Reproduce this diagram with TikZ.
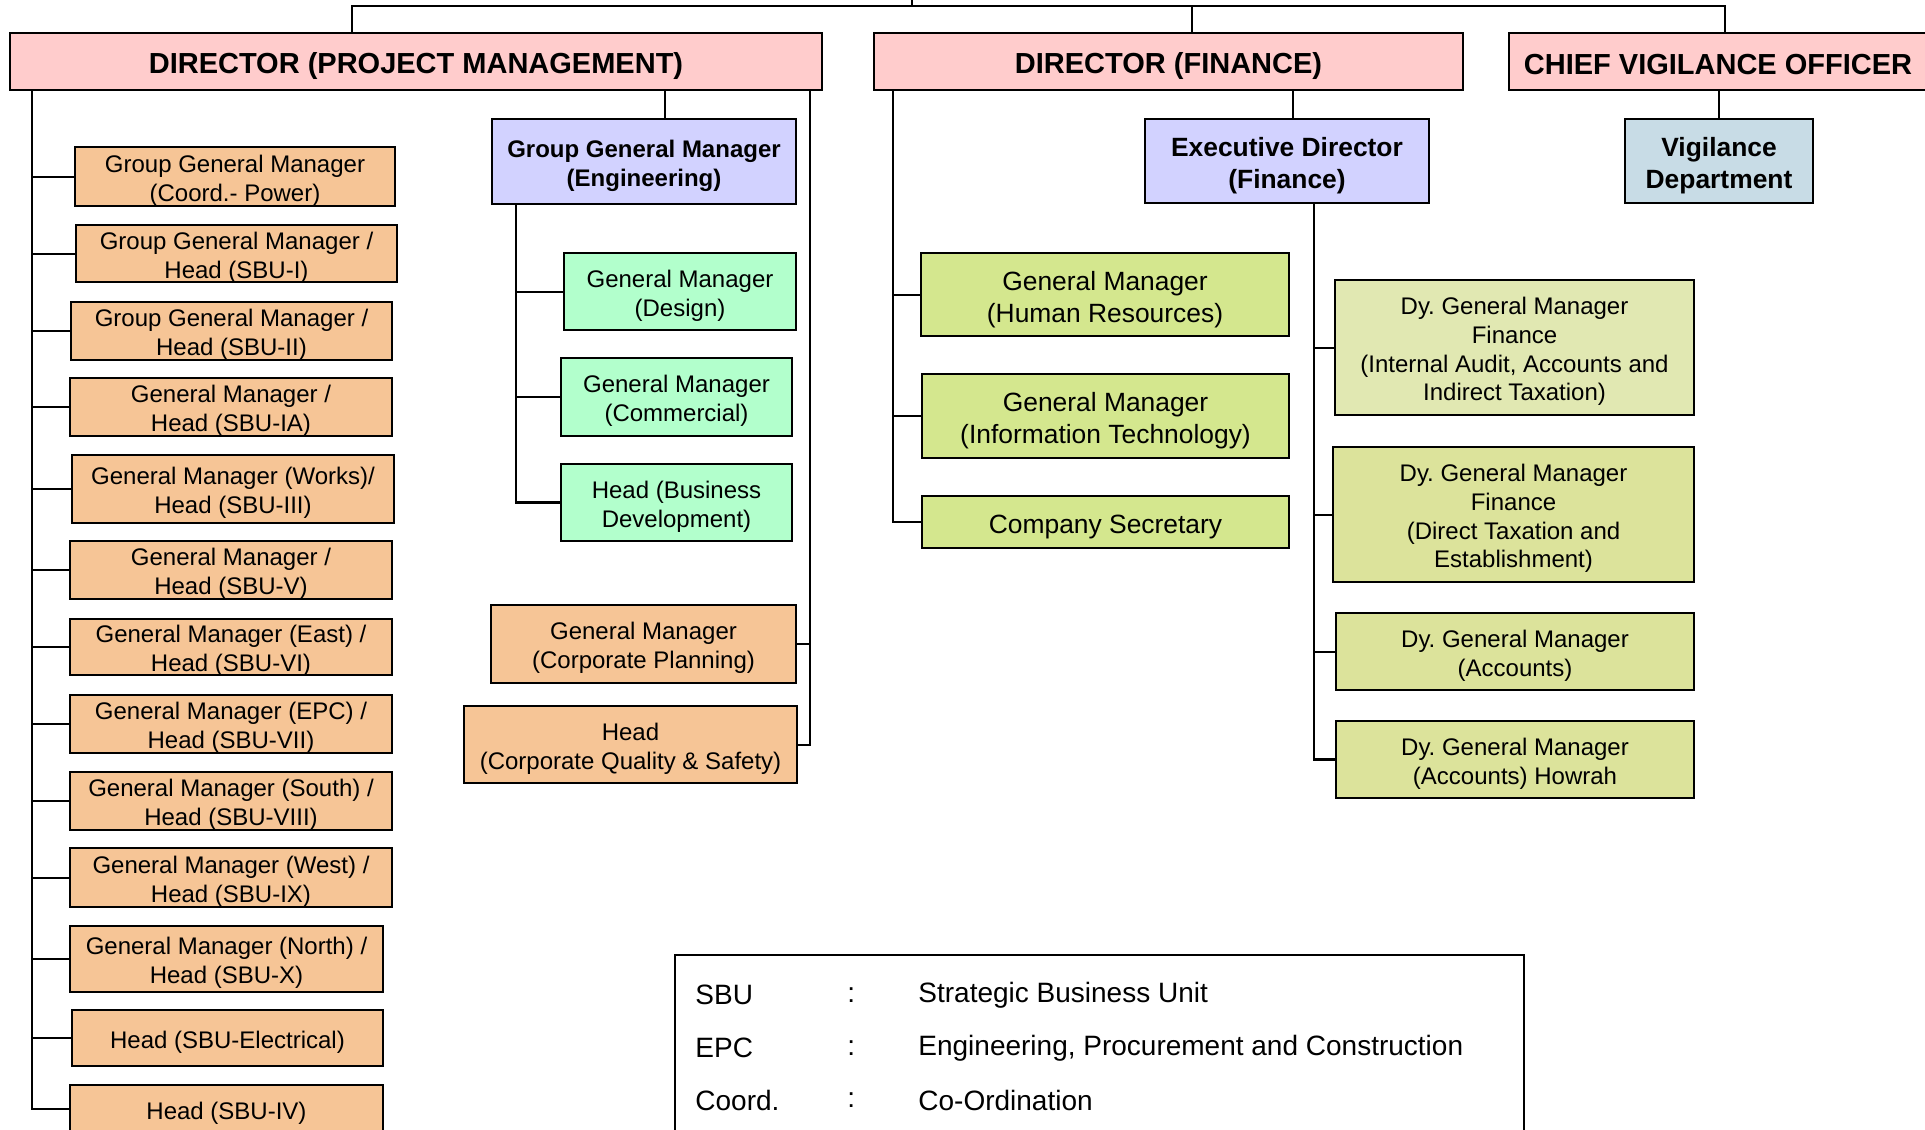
\documentclass[tikz,border=0pt]{standalone}
\usepackage{fontspec}
\setmainfont{Liberation Sans}
\definecolor{pinkc}{HTML}{FFCCCC}
\definecolor{peach}{HTML}{F6C596}
\definecolor{lav}{HTML}{D2D2FF}
\definecolor{mint}{HTML}{B2FFCC}
\definecolor{limea}{HTML}{D4E78E}
\definecolor{limeb}{HTML}{E1E8B2}
\definecolor{limec}{HTML}{DCE39B}
\definecolor{vig}{HTML}{C8DCE6}
\newcommand\bx[8][-2pt]{%
  \node[#7, minimum width={(#4-#2)*0.5pt}, minimum height={(#5-#3)*0.5pt}] (#2) at ({(#3+#5)/2},{(#4+#6)/2}) {};}
\newcommand\bxx[8][-2pt]{%
  \node[#7, minimum width={(#5-#3)*0.5pt}, minimum height={(#6-#4)*0.5pt}] (#2) at ({(#3+#5)/2},{(#4+#6)/2}) {};
  \node[#7, draw=none, fill=none, minimum width=0pt, minimum height=0pt] (#2-t) at ([yshift=#1]#2.center) {#8};}
\tikzset{
  box/.style={draw=black, line width=1pt, inner sep=0pt, align=center},
  dirbox/.style={box, fill=pinkc, font=\fontsize{14.5}{17}\selectfont\bfseries},
  orbox/.style={box, fill=peach, font=\fontsize{12}{14.4}\selectfont},
  engbox/.style={box, fill=lav, font=\fontsize{12}{14.6}\selectfont\bfseries},
  edbox/.style={box, fill=lav, font=\fontsize{13.2}{16}\selectfont\bfseries},
  vigbox/.style={box, fill=vig, font=\fontsize{13.2}{16}\selectfont\bfseries},
  mintbox/.style={box, fill=mint, font=\fontsize{12}{14.4}\selectfont},
  finbox/.style={box, fill=limea, font=\fontsize{13.2}{16}\selectfont},
  dybox/.style={box, fill=limec, font=\fontsize{12}{14.4}\selectfont},
  trunk/.style={draw=black, line width=1.3pt},
  conn/.style={draw=black, line width=1pt},
  legtxt/.style={inner sep=0pt, anchor=west, font=\fontsize{14}{16}\selectfont}
}
\begin{document}
\frenchspacing
\begin{tikzpicture}[x=0.5pt, y=-0.5pt]
\useasboundingbox (0,0) rectangle (1925,1129);
\fill[white] (0,0) rectangle (1925,1129);

% directors
\bxx[-2.5pt]{dpm}{10}{33}{822}{90}{dirbox}{DIRECTOR (PROJECT MANAGEMENT)}
\bxx[-2.5pt]{df}{874}{33}{1463}{90}{dirbox}{DIRECTOR (FINANCE)}
\bxx[-1.5pt]{cvo}{1509}{33}{1927}{90}{dirbox}{CHIEF VIGILANCE OFFICER}

% top connectors
\coordinate (topL) at (352,6);
\coordinate (topR) at (1725,6);
\coordinate (topUp) at (912,0);
\coordinate (dfTop) at (1192,6);
\draw[trunk] (topL |- dpm.north) -- (topL) -- (topR) -- (topR |- cvo.north);
\draw[conn] (topUp) -- (topUp |- topL);
\draw[conn] (dfTop) -- (dfTop |- df.north);

% PM orange column
\bxx{o1}{75}{147}{395}{206}{orbox}{Group General Manager\\(Coord.- Power)}
\bxx{o2}{76}{225}{397}{282}{orbox}{Group General Manager /\\Head (SBU-I)}
\bxx{o3}{71}{302}{392}{360}{orbox}{Group General Manager /\\Head (SBU-II)}
\bxx{o4}{70}{378}{392}{436}{orbox}{General Manager /\\Head (SBU-IA)}
\bxx{o5}{72}{455}{394}{523}{orbox}{General Manager (Works)/\\Head (SBU-III)}
\bxx{o6}{70}{541}{392}{599}{orbox}{General Manager /\\Head (SBU-V)}
\bxx{o7}{70}{619}{392}{675}{orbox}{General Manager (East) /\\Head (SBU-VI)}
\bxx{o8}{70}{695}{392}{753}{orbox}{General Manager (EPC) /\\Head (SBU-VII)}
\bxx{o9}{70}{772}{392}{830}{orbox}{General Manager (South) /\\Head (SBU-VIII)}
\bxx{o10}{70}{848}{392}{907}{orbox}{General Manager (West) /\\Head (SBU-IX)}
\bxx{o11}{70}{926}{383}{992}{orbox}{General Manager (North) /\\Head (SBU-X)}
\bxx{o12}{72}{1010}{383}{1066}{orbox}{Head (SBU-Electrical)}
\bxx{o13}{70}{1085}{383}{1133}{orbox}{Head (SBU-IV)}

\coordinate (pmL) at (32,90);
\draw[trunk] (pmL) -- (pmL |- o13.west) -- (o13.west);
\foreach \n in {o1,o2,o3,o4,o5,o6,o7,o8,o9,o10,o11,o12}{
  \draw[conn] (pmL |- \n.west) -- (\n.west);
}

% Engineering
\bxx{eng}{492}{119}{796}{204}{engbox}{Group General Manager\\(Engineering)}
\coordinate (engTop) at (665,90);
\draw[conn] (engTop) -- (engTop |- eng.north);
\bxx{g1}{564}{253}{796}{330}{mintbox}{General Manager\\(Design)}
\bxx{g2}{561}{358}{792}{436}{mintbox}{General Manager\\(Commercial)}
\bxx{g3}{561}{464}{792}{541}{mintbox}{Head (Business\\Development)}
\coordinate (engL) at (516,204);
\draw[trunk] (engL) -- (engL |- g3.west) -- (g3.west);
\draw[conn] (engL |- g1.west) -- (g1.west);
\draw[conn] (engL |- g2.west) -- (g2.west);

% PM right
\bxx{cp}{491}{605}{796}{683}{orbox}{General Manager\\(Corporate Planning)}
\bxx{cq}{464}{706}{797}{783}{orbox}{Head\\(Corporate Quality \& Safety)}
\coordinate (pmR) at (810,90);
\draw[conn] (pmR) -- (pmR |- cq.east) -- (cq.east);
\draw[conn] (pmR |- cp.east) -- (cp.east);

% Finance left
\bxx[-2.5pt]{hr}{921}{253}{1289}{336}{finbox}{General Manager\\(Human Resources)}
\bxx[-2.5pt]{it}{922}{374}{1289}{458}{finbox}{General Manager\\(Information Technology)}
\bxx[-2.5pt]{cs}{922}{496}{1289}{548}{finbox}{Company Secretary}
\coordinate (fL) at (893,90);
\draw[trunk] (fL) -- (fL |- cs.west) -- (cs.west);
\draw[conn] (fL |- hr.west) -- (hr.west);
\draw[conn] (fL |- it.west) -- (it.west);

% ED Finance
\bxx[-2.5pt]{ed}{1145}{119}{1429}{203}{edbox}{Executive Director\\(Finance)}
\coordinate (edTop) at (1293,90);
\draw[conn] (edTop) -- (edTop |- ed.north);
\bxx{d1}{1335}{280}{1694}{415}{dybox, fill=limeb}{Dy. General Manager\\Finance\\(Internal Audit, Accounts and\\Indirect Taxation)}
\bxx{d2}{1333}{447}{1694}{582}{dybox}{Dy. General Manager\\Finance\\(Direct Taxation and\\Establishment)}
\bxx{d3}{1336}{613}{1694}{690}{dybox}{Dy. General Manager\\(Accounts)}
\bxx{d4}{1336}{721}{1694}{798}{dybox}{Dy. General Manager\\(Accounts) Howrah}
\coordinate (edL) at (1314,203);
\draw[trunk] (edL) -- (edL |- d4.west) -- (d4.west);
\foreach \n in {d1,d2,d3}{
  \draw[conn] (edL |- \n.west) -- (\n.west);
}

% Vigilance
\bxx[-2.5pt]{vd}{1625}{119}{1813}{203}{vigbox}{Vigilance\\Department}
\coordinate (vTop) at (1719,90);
\draw[conn] (vTop) -- (vTop |- vd.north);

% legend
\node[draw=black, line width=1pt, minimum width={(1524-675)*0.5pt}, minimum height={(1150-955)*0.5pt}, inner sep=0pt] (leg) at ({(675+1524)/2},{(955+1150)/2}) {};
\node[legtxt] (l1a) at (695,995) {SBU};
\node[legtxt] (l1b) at (847,995) {:};
\node[legtxt] (l1c) at (918,995) {Strategic Business Unit};
\node[legtxt] (l2a) at (695,1048) {EPC};
\node[legtxt] (l2b) at (847,1048) {:};
\node[legtxt] (l2c) at (918,1048) {Engineering, Procurement and Construction};
\node[legtxt] (l3a) at (695,1100) {Coord.};
\node[legtxt] (l3b) at (847,1100) {:};
\node[legtxt] (l3c) at (918,1100) {Co-Ordination};
\end{tikzpicture}
\end{document}
